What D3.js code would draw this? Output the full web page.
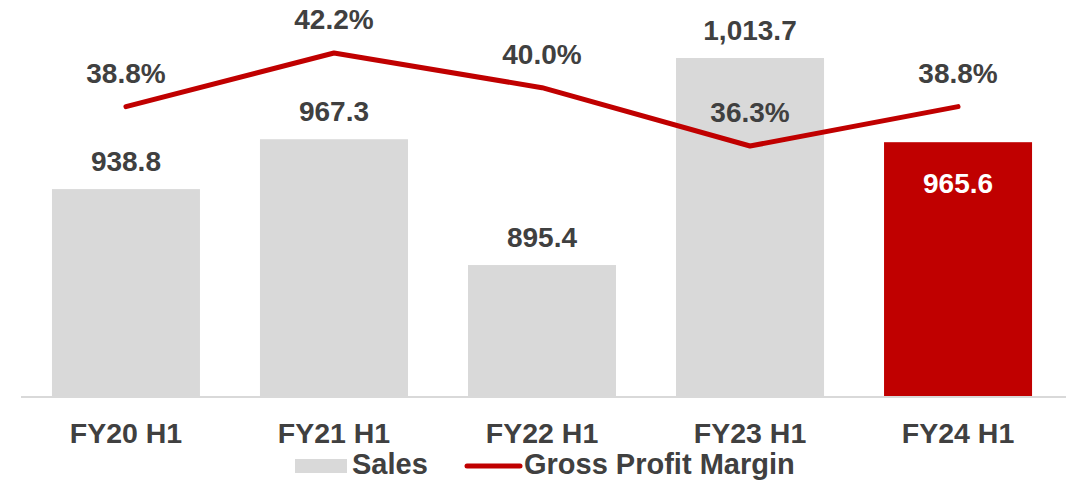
<!DOCTYPE html>
<html>
<head>
<meta charset="utf-8">
<script src="https://cdn.jsdelivr.net/npm/d3@7"></script>
<style>
  html, body { margin: 0; padding: 0; background: #fff; }
  svg { display: block; }
  text { font-family: "Liberation Sans", Arial, sans-serif; font-weight: bold; fill: #404040; }
</style>
</head>
<body>
<svg id="chart" width="1069" height="483"></svg>
<script>
const categories = ["FY20 H1", "FY21 H1", "FY22 H1", "FY23 H1", "FY24 H1"];
const sales = [938.8, 967.3, 895.4, 1013.7, 965.6];
const salesLabels = ["938.8", "967.3", "895.4", "1,013.7", "965.6"];
const margin = [38.8, 42.2, 40.0, 36.3, 38.8];
const marginLabels = ["38.8%", "42.2%", "40.0%", "36.3%", "38.8%"];
const legendLabels = ["Sales", "Gross Profit Margin"];

const grey = "#d9d9d9", red = "#c00000", ink = "#404040";
const svg = d3.select("#chart");

const x = d3.scaleBand().domain(categories).range([22, 1062]).paddingInner(0.2885).paddingOuter(0.144);
const y = d3.scaleLinear().domain([820, 1040]).range([397, 12]);
const y2 = d3.scaleLinear().domain([30, 45]).range([245.3, 8.9]);

// bars
svg.selectAll("rect.bar").data(sales).enter().append("rect")
  .attr("class", "bar")
  .attr("x", (d, i) => x(categories[i]))
  .attr("width", x.bandwidth())
  .attr("y", d => y(d))
  .attr("height", d => y(820) - y(d))
  .attr("fill", (d, i) => i === sales.length - 1 ? red : grey);

// axis
const axis = svg.append("g").attr("transform", "translate(0,397)")
  .call(d3.axisBottom(x).tickSize(0).tickPadding(0));
axis.select(".domain").attr("stroke", grey).attr("stroke-width", 2).attr("d", "M21,0H1066");
axis.selectAll(".tick text")
  .attr("dy", 0).attr("y", 46)
  .style("font-size", "28.5px").style("font-family", '"Liberation Sans", Arial, sans-serif')
  .style("font-weight", "bold").attr("fill", ink);

// bar labels
svg.selectAll("text.blabel").data(sales).enter().append("text")
  .attr("class", "blabel")
  .attr("x", (d, i) => x(categories[i]) + x.bandwidth() / 2)
  .attr("y", (d, i) => i === sales.length - 1 ? y(d) + 51 : y(d) - 18)
  .attr("text-anchor", "middle")
  .style("font-size", "28px")
  .style("fill", (d, i) => i === sales.length - 1 ? "#ffffff" : ink)
  .text((d, i) => salesLabels[i]);

// line
const line = d3.line()
  .x((d, i) => x(categories[i]) + x.bandwidth() / 2)
  .y(d => y2(d));
svg.append("path").datum(margin)
  .attr("d", line)
  .attr("fill", "none")
  .attr("stroke", red)
  .attr("stroke-width", 5)
  .attr("stroke-linecap", "round")
  .attr("stroke-linejoin", "round");

// line labels
svg.selectAll("text.mlabel").data(margin).enter().append("text")
  .attr("class", "mlabel")
  .attr("x", (d, i) => x(categories[i]) + x.bandwidth() / 2)
  .attr("y", d => y2(d) - 24)
  .attr("text-anchor", "middle")
  .style("font-size", "28px")
  .text((d, i) => marginLabels[i]);

// legend
const lg = svg.append("g");
lg.append("rect").attr("x", 295).attr("y", 459).attr("width", 52).attr("height", 14).attr("fill", grey);
lg.append("text").attr("x", 352).attr("y", 474).style("font-size", "29px").text(legendLabels[0]);
lg.append("line").attr("x1", 467).attr("x2", 520).attr("y1", 466).attr("y2", 466)
  .attr("stroke", red).attr("stroke-width", 5).attr("stroke-linecap", "round");
lg.append("text").attr("x", 524).attr("y", 474).style("font-size", "29px").text(legendLabels[1]);
</script>
</body>
</html>
